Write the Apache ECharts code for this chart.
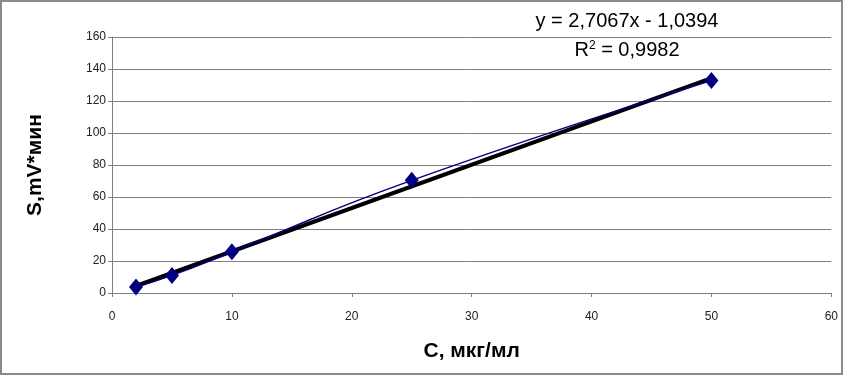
<!DOCTYPE html>
<html><head><meta charset="utf-8">
<script src="https://cdn.jsdelivr.net/npm/echarts@6/dist/echarts.min.js"></script>
<style>html,body{margin:0;padding:0;background:#fff}#c{width:843px;height:375px;box-sizing:border-box;border:2px solid #8a8a8a}</style>
</head><body><div id="c"></div>
<script>
var concentrations = [2, 5, 10, 25, 50];
var signals = [3.8, 11, 25.8, 70.4, 132.8];
var trendSlope = 2.7067;
var trendIntercept = -1.0394;
var equationText = 'y = 2,7067x - 1,0394';
var r2Text = '0,9982';
var xTitle = 'С, мкг/мл';
var yTitle = 'S,mV*мин';

var pts = concentrations.map(function(x, i){ return [x, signals[i]]; });
var xMin = concentrations[0], xMax = concentrations[concentrations.length - 1];
var trend = [[xMin, trendSlope * xMin + trendIntercept], [xMax, trendSlope * xMax + trendIntercept]];

var chart = echarts.init(document.getElementById('c'));
var font = '"Liberation Sans", Arial, sans-serif';
chart.setOption({
  animation: false,
  backgroundColor: '#fff',
  grid: {left: 110, right: 8, top: 35, bottom: 80, containLabel: false},
  xAxis: {
    type: 'value', min: 0, max: 60, interval: 10,
    axisLine: {lineStyle: {color: '#808080', width: 1}},
    axisTick: {show: true, length: 4, lineStyle: {color: '#808080'}},
    axisLabel: {color: '#222', fontFamily: font, fontSize: 12, margin: 18},
    splitLine: {show: false},
    name: xTitle, nameLocation: 'middle', nameGap: 48,
    nameTextStyle: {fontFamily: font, fontSize: 21, fontWeight: 'bold', color: '#000'}
  },
  yAxis: {
    type: 'value', min: 0, max: 160, interval: 20,
    axisLine: {show: true, lineStyle: {color: '#808080', width: 1}},
    axisTick: {show: true, length: 4, lineStyle: {color: '#808080'}},
    axisLabel: {color: '#222', fontFamily: font, fontSize: 12, margin: 6},
    splitLine: {show: true, lineStyle: {color: '#808080', width: 1}},
    name: yTitle, nameLocation: 'middle', nameGap: 66, nameRotate: 90,
    nameTextStyle: {fontFamily: font, fontSize: 21, fontWeight: 'bold', color: '#000'}
  },
  series: [
    {
      type: 'line', data: trend, symbol: 'none', z: 3,
      lineStyle: {color: '#000', width: 4}
    },
    {
      type: 'line', data: pts, smooth: 0.5, z: 4,
      symbol: 'diamond', symbolSize: [14, 17],
      itemStyle: {color: '#000080'},
      lineStyle: {color: '#000080', width: 1.5}
    }
  ],
  graphic: [
    {type: 'text', x: 625, y: 19, style: {text: equationText, font: '20px ' + font, fill: '#000', align: 'center', verticalAlign: 'middle'}},
    {type: 'text', x: 625, y: 48, style: {text: '{n|R}{s|2}{n| = ' + r2Text + '}', rich: {n: {fontSize: 20, fontFamily: font, fill: '#000'}, s: {fontSize: 12, fontFamily: font, fill: '#000', padding: [0, 0, 9, 0]}}, align: 'center', verticalAlign: 'middle'}}
  ]
});
</script></body></html>
